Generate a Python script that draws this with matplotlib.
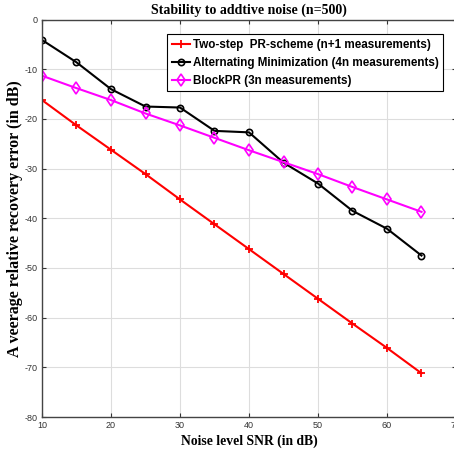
import numpy as np
import matplotlib
matplotlib.use("Agg")
import matplotlib.pyplot as plt

plt.rcParams['axes.unicode_minus'] = False

snr = [10, 15, 20, 25, 30, 35, 40, 45, 50, 55, 60, 65]

two_step = [-16.2, -21.3, -26.2, -31.1, -36.2, -41.2, -46.2, -51.2, -56.2, -61.2, -66.1, -71.2]
alt_min = [-4.1, -8.6, -14.0, -17.5, -17.7, -22.4, -22.7, -28.8, -33.0, -38.5, -42.1, -47.5]
block_pr = [-11.3, -13.8, -16.2, -18.9, -21.3, -23.8, -26.3, -28.7, -31.1, -33.7, -36.2, -38.7]

labels = ["Two-step  PR-scheme (n+1 measurements)",
          "Alternating Minimization (4n measurements)",
          "BlockPR (3n measurements)"]

fig = plt.figure(figsize=(4.54, 4.57), dpi=100)
ax = fig.add_axes([42/454, 1-417/457, 414/454, 397.4/457])

ax.plot(snr, two_step, color='red', marker='+', markersize=6, mew=1.3, lw=1.5, label=labels[0])
ax.plot(snr, alt_min, color='black', marker='o', markersize=4.5, mfc='none', mew=1.2, lw=1.5, label=labels[1])
ax.plot(snr, block_pr, color='magenta', marker='d', markersize=6, mfc='none', mew=1.2, lw=1.5, label=labels[2])

ax.set_xlim(10, 70)
ax.set_ylim(-80, 0)
ax.set_xticks(range(10, 71, 10))
ax.set_yticks(range(-80, 1, 10))
ax.grid(True, color='#dddddd', lw=0.8)
ax.tick_params(direction='in', length=3, labelsize=6.5, colors='#333333', top=True, right=True, pad=3)
for lab in ax.get_xticklabels() + ax.get_yticklabels():
    lab.set_family('Liberation Sans')
for s in ax.spines.values():
    s.set_color('#444444')
    s.set_linewidth(1.0)

ax.set_title("Stability to addtive noise (n=500)", fontsize=10, fontweight='bold',
             family='Liberation Serif', pad=4)
ax.set_xlabel("Noise level SNR (in dB)", fontsize=9.8, fontweight='bold',
              family='Liberation Serif', labelpad=3)
ax.set_ylabel("A veerage relative recovery error (in dB)", fontsize=11.5, fontweight='bold',
              family='Liberation Serif', labelpad=1)

leg = ax.legend(loc='upper left', bbox_to_anchor=(0.302, 0.963), fancybox=False,
                edgecolor='black', framealpha=1, handlelength=1.6, handletextpad=0.2,
                borderpad=0.4, labelspacing=0.5, borderaxespad=0,
                prop={'family': 'Liberation Sans', 'weight': 'bold', 'size': 8.4})
leg.get_frame().set_linewidth(0.8)

fig.savefig("out.png", dpi=100)
